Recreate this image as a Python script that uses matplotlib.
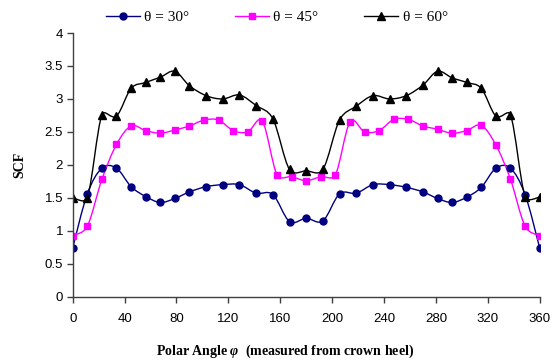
import numpy as np
import matplotlib.pyplot as plt
from matplotlib.path import Path
from matplotlib.patches import PathPatch
from matplotlib.lines import Line2D

plt.rcParams['mathtext.fontset'] = 'custom'
plt.rcParams['mathtext.rm'] = 'Liberation Serif:bold'
plt.rcParams['mathtext.it'] = 'Liberation Serif:italic:bold'

# Polar angles (deg) of the sampled points
phi_30_60 = [0, 11.25, 22.5, 33.75, 45, 56.25, 67.5, 78.75, 90,
             102.86, 115.71, 128.57, 141.43, 154.29, 167.14, 180, 192.86,
             205.71, 218.57, 231.43, 244.29, 257.14, 270,
             281.25, 292.5, 303.75, 315, 326.25, 337.5, 348.75, 360]
phi_45 = [0, 11.25, 22.5, 33.75, 45, 56.25, 67.5, 78.75, 90, 101.25,
          112.5, 123.75, 135, 146.25, 157.5, 168.75, 180, 191.25, 202.5,
          213.75, 225, 236.25, 247.5, 258.75, 270, 281.25, 292.5, 303.75,
          315, 326.25, 337.5, 348.75, 360]

# SCF values
scf_30 = [0.74, 1.56, 1.95, 1.95, 1.67, 1.52, 1.43, 1.49, 1.59,
          1.67, 1.70, 1.70, 1.57, 1.55, 1.14, 1.19, 1.15,
          1.56, 1.57, 1.70, 1.70, 1.66, 1.59,
          1.49, 1.43, 1.51, 1.66, 1.95, 1.95, 1.55, 0.74]
scf_45 = [0.92, 1.07, 1.78, 2.31, 2.59, 2.52, 2.48, 2.53, 2.59, 2.68,
          2.68, 2.52, 2.50, 2.66, 1.85, 1.82, 1.76, 1.82, 1.85,
          2.65, 2.50, 2.52, 2.69, 2.69, 2.59, 2.54, 2.48, 2.52,
          2.60, 2.30, 1.78, 1.07, 0.92]
scf_60 = [1.50, 1.50, 2.76, 2.74, 3.16, 3.25, 3.33, 3.42, 3.20,
          3.05, 3.00, 3.06, 2.90, 2.70, 1.93, 1.91, 1.93,
          2.68, 2.89, 3.05, 3.00, 3.05, 3.21,
          3.42, 3.32, 3.25, 3.16, 2.74, 2.76, 1.52, 1.51]

labels = ['θ = 30°', 'θ = 45°', 'θ = 60°']


def smooth_path(ax, x, y):
    # bezier "smoothed line": tangents built in pixel space, arms capped
    # at half the segment length so flat steps don't overshoot much
    to_px = ax.transData
    pts = to_px.transform(np.column_stack([x, y]).astype(float))
    n = len(pts)
    verts = [pts[0]]
    codes = [Path.MOVETO]
    for i in range(n - 1):
        p0 = pts[i - 1] if i > 0 else pts[i]
        p1 = pts[i]
        p2 = pts[i + 1]
        p3 = pts[i + 2] if i + 2 < n else pts[i + 1]
        d12 = np.hypot(*(p2 - p1))
        d02 = np.hypot(*(p2 - p0))
        d13 = np.hypot(*(p3 - p1))
        a1 = (p2 - p0) / 6
        if d02 / 6 > d12 / 2:
            a1 = (p2 - p0) * (d12 / 2) / d02
        a2 = (p3 - p1) / 6
        if d13 / 6 > d12 / 2:
            a2 = (p3 - p1) * (d12 / 2) / d13
        verts += [p1 + a1, p2 - a2, p2]
        codes += [Path.CURVE4] * 3
    verts = to_px.inverted().transform(np.array(verts))
    return Path(verts, codes)


fig = plt.figure(figsize=(5.55, 3.63), dpi=100)
ax = fig.add_axes([0.131, 0.1826, 0.8414, 0.7264])
ax.set_xlim(0, 360)
ax.set_ylim(0, 4)

series = [
    (phi_30_60, scf_30, '#000080', 'o', 5.0),
    (phi_45, scf_45, '#ff00ff', 's', 4.6),
    (phi_30_60, scf_60, 'black', '^', 5.6),
]
handles = []
for x, y, c, m, ms in series:
    ax.add_patch(PathPatch(smooth_path(ax, x, y), fill=False, edgecolor=c, lw=1.0))
    ax.plot(x, y, ls='none', marker=m, ms=ms, color=c, mec=c)
    handles.append(Line2D([], [], color=c, lw=1.0, marker=m, ms=ms, mec=c))

ax.set_xlim(0, 360)
ax.set_ylim(0, 4)
ax.set_xticks(np.arange(0, 361, 40))
ax.set_yticks(np.arange(0, 4.01, 0.5))
ax.set_yticklabels(['0', '0.5', '1', '1.5', '2', '2.5', '3', '3.5', '4'])

for s in ['top', 'right']:
    ax.spines[s].set_visible(False)
for s in ['left', 'bottom']:
    ax.spines[s].set_color('#404040')
    ax.spines[s].set_linewidth(1.0)
ax.tick_params(direction='out', length=4, width=1, color='#404040')
ax.tick_params(axis='x', pad=8)
ax.tick_params(axis='y', pad=3)
for t in ax.get_xticklabels() + ax.get_yticklabels():
    t.set_fontfamily('Liberation Sans')
    t.set_fontsize(9.5)

ax.set_ylabel('SCF', fontfamily='Liberation Serif', fontweight='bold', fontsize=10)
ax.yaxis.set_label_coords(-0.10, 0.5)
ax.set_xlabel(r'Polar Angle $\mathit{φ}$  (measured from crown heel)',
              fontfamily='Liberation Serif', fontweight='bold', fontsize=10)
ax.xaxis.set_label_coords(0.4546, -0.175)

fig.legend(handles, labels, loc='center', ncol=3, frameon=False,
           bbox_to_anchor=(0.499, 0.952),
           prop={'family': 'Liberation Serif', 'size': 11},
           handlelength=2.2, handletextpad=0.3, columnspacing=3.0)

fig.savefig('out.png', dpi=100)
